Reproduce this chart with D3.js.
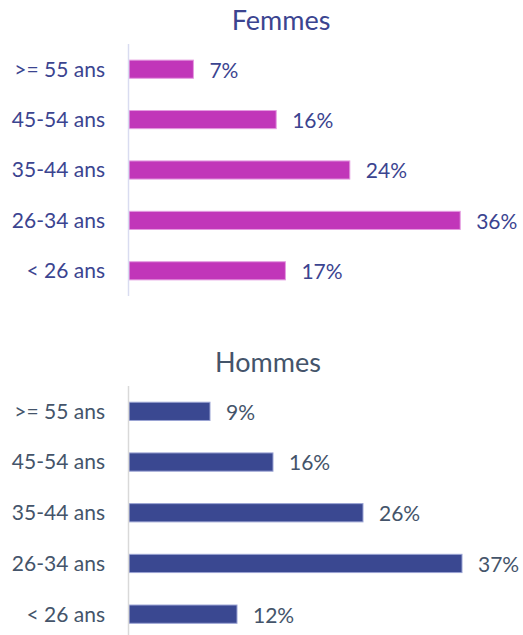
<!DOCTYPE html>
<html>
<head>
<meta charset="utf-8">
<script src="https://cdn.jsdelivr.net/npm/d3@7"></script>
<style>
  body { margin: 0; background: #fff; }
  svg { display: block; font-family: Lato, "Open Sans", sans-serif; }
</style>
</head>
<body>
<div id="chart"></div>
<script>
// age groups, top to bottom
var categories = [">= 55 ans", "45-54 ans", "35-44 ans", "26-34 ans", "< 26 ans"];
var femmes = [7, 16, 24, 36, 17];
var hommes = [9, 16, 26, 37, 12];

var width = 523;
var height = 635;

var svg = d3.select('#chart')
    .append('svg')
    .attr('width', width)
    .attr('height', height);

function drawPanel(opts) {
    var g = svg.append('g');

    var dots = categories.map(function (c, i) {
        return { cat: c, v: opts.values[i] };
    });

    var x = d3.scaleLinear()
        .domain([0, 40])
        .range([129, 129 + opts.span]);
    var y = d3.scaleBand()
        .domain(categories)
        .range([opts.top, opts.bottom])
        .paddingInner(0.64)
        .paddingOuter(0.32);

    // title
    g.append('text')
        .attr('x', opts.titleX)
        .attr('y', opts.titleY)
        .attr('text-anchor', 'middle')
        .attr('fill', opts.textColor)
        .style('font-size', '27px')
        .text(opts.title);

    // bars
    g.selectAll('rect')
        .data(dots)
        .enter()
        .append('rect')
        .attr('x', x(0))
        .attr('y', d => y(d.cat))
        .attr('width', d => x(d.v) - x(0))
        .attr('height', y.bandwidth())
        .attr('fill', opts.color)
        .attr('stroke', opts.edge)
        .attr('stroke-width', 1);

    // axis line
    g.append('line')
        .attr('x1', 128.5).attr('x2', 128.5)
        .attr('y1', opts.top).attr('y2', opts.axisEnd)
        .attr('stroke', opts.axisColor)
        .attr('stroke-width', 1.5);

    // category labels
    g.selectAll('.cat')
        .data(dots)
        .enter()
        .append('text')
        .attr('class', 'cat')
        .attr('x', 105)
        .attr('y', d => y(d.cat) + y.bandwidth() / 2)
        .attr('dy', '0.35em')
        .attr('text-anchor', 'end')
        .attr('fill', opts.textColor)
        .style('font-size', '21px')
        .text(d => d.cat);

    // value labels
    g.selectAll('.val')
        .data(dots)
        .enter()
        .append('text')
        .attr('class', 'val')
        .attr('x', d => x(d.v) + 16)
        .attr('y', d => y(d.cat) + y.bandwidth() / 2)
        .attr('dy', '0.4em')
        .attr('fill', opts.textColor)
        .style('font-size', '21px')
        .text(d => d.v + '%');
}

drawPanel({
    title: 'Femmes', titleX: 281, titleY: 30,
    values: femmes, color: '#c136b9', edge: '#e49be0',
    textColor: '#3b4490', axisColor: '#d9dcf0',
    top: 44, bottom: 296, axisEnd: 296, span: 368
});

drawPanel({
    title: 'Hommes', titleX: 268, titleY: 372,
    values: hommes, color: '#3a4891', edge: '#9aa3d3',
    textColor: '#44546a', axisColor: '#d9d9d9',
    top: 386, bottom: 639.5, axisEnd: 635, span: 360
});
</script>
</body>
</html>
